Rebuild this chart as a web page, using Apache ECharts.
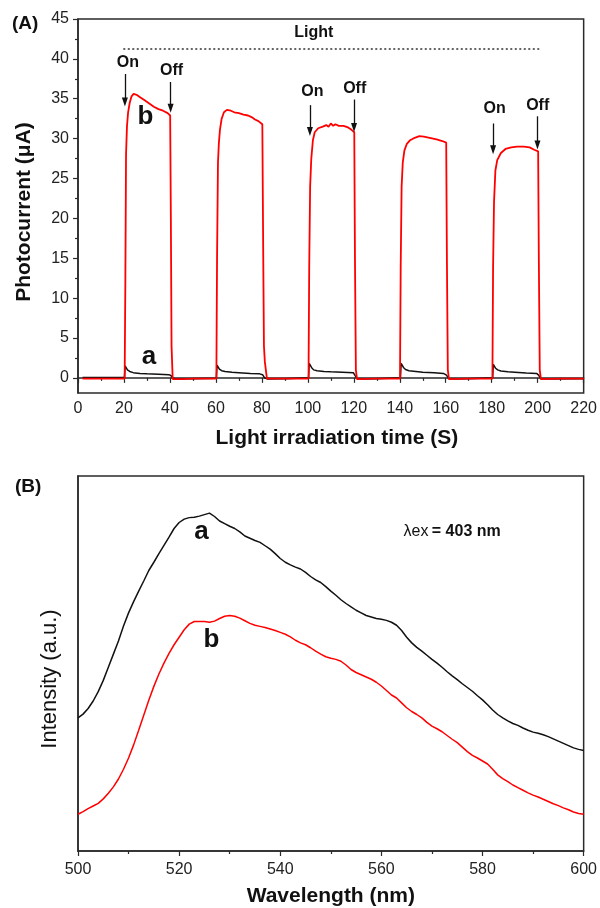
<!DOCTYPE html>
<html>
<head>
<meta charset="utf-8">
<script src="https://cdn.jsdelivr.net/npm/echarts@6/dist/echarts.min.js"></script>
<style>
html,body{margin:0;padding:0;background:#fff;}
#chart{width:600px;height:908px;}
</style>
</head>
<body>
<div id="chart"></div>
<script>
// ---------- Panel A: photocurrent vs time ----------
const timeTicks = [0,20,40,60,80,100,120,140,160,180,200,220];
const currentTicks = [0,5,10,15,20,25,30,35,40,45];
const currentMinorTicks = [2.5,7.5,12.5,17.5,22.5,27.5,32.5,37.5,42.5];

const timeB = [2,20.3,20.6,20.9,21.3,21.8,22.5,23.3,24.2,25.5,27,29,31,33,35,37,39,40.1,40.4,40.7,41.2,45,50,
  60.2,60.5,60.9,61.3,61.8,62.5,63.5,64.8,66.5,68,70,72,74,75.5,77,78.5,80.2,80.6,80.9,81.3,82.2,90,
  100.3,100.6,101,101.5,102.2,103,104.5,106.5,108,109,110,111,112,113.5,115.5,117.5,119,120.2,120.5,120.9,121.4,130,
  140.1,140.4,140.8,141.3,142,143,144.5,146.5,148.5,150.5,153,156,158.5,160.2,160.5,160.9,161.4,170,
  180.3,180.6,181,181.6,182.4,184,186,188.5,191,194,196.5,198.5,200.2,200.5,200.9,201.4,210,220];
const currentB = [-0.1,-0.1,12,28,31.5,33.3,34.5,35.3,35.6,35.5,35.2,34.8,34.4,34.0,33.7,33.5,33.2,32.9,20,4,-0.15,-0.15,-0.1,
  -0.1,15,27,29.5,31.2,32.5,33.3,33.6,33.5,33.3,33.2,33.0,32.9,32.7,32.4,32.2,31.8,15,4,2,-0.1,-0.1,
  -0.1,14,24,27.5,29.8,30.8,31.3,31.5,31.7,31.5,31.9,31.6,31.8,31.6,31.6,31.4,31.1,30.8,15,1,-0.15,-0.1,
  -0.1,14,24,27,28.5,29.3,29.8,30.1,30.3,30.25,30.1,29.9,29.7,29.5,15,1,-0.15,-0.1,
  -0.1,14,22,26,27.3,28.2,28.7,28.9,29.0,29.0,28.9,28.6,28.4,15,1,-0.15,-0.1,-0.1];

const timeA = [2,20.2,20.5,20.9,21.5,22.5,24,27,30,35,39.5,40.4,41.2,43,50,
  60.2,60.5,60.9,61.5,62.5,64,67,70,75,79,80.3,81.2,82.5,90,
  100.3,100.6,101,101.6,102.5,104,107,110,115,119.8,120.5,121.4,125,130,
  140.3,140.6,141,141.6,142.5,144,147,150,155,159,160.3,161.3,165,170,
  180.4,180.7,181.1,181.7,182.6,184,187,190,195,199.5,200.4,201.3,205,220];
const currentA = [0.05,0.05,1.5,1.3,1.0,0.8,0.65,0.55,0.5,0.45,0.4,0.3,-0.05,-0.15,-0.1,
  -0.05,1.6,1.4,1.1,0.9,0.8,0.7,0.65,0.55,0.5,0.4,0,-0.15,-0.1,
  0,1.8,1.6,1.3,1.0,0.9,0.8,0.75,0.7,0.65,0.3,-0.1,-0.15,-0.1,
  0,1.8,1.6,1.3,1.05,0.9,0.8,0.7,0.65,0.55,0.35,-0.1,-0.15,-0.1,
  0,1.7,1.5,1.2,1.0,0.85,0.75,0.7,0.6,0.55,0.35,-0.1,-0.15,-0.1];

// On/Off annotations (time, arrow start, arrow end, label position)
const switchText = ['On','Off','On','Off','On','Off'];
const switchTime = [20.4,40.3,100.9,120.1,180.6,199.9];
const arrowFrom = [38.1,37.1,34.2,34.9,31.9,32.8];
const arrowTo = [34.6,33.8,30.9,31.4,28.6,29.2];
const switchLabelTime = [21.7,40.7,102,120.4,181.3,200];
const switchLabelValue = [39.5,38.5,35.9,36.3,33.8,34.1];
const lightStart = 19.7, lightEnd = 201.7, lightLevel = 41.24;

// ---------- Panel B: PL spectra ----------
const wavelength = [500,501,502,503,504,505,506,507,508,509,510,511,512,513,514,515,516,517,518,519,
  520,521,522,523,524,525,526,527,528,529,530,531,532,533,534,535,536,537,538,539,
  540,541,542,543,544,545,546,547,548,549,550,551,552,553,554,555,556,557,558,559,
  560,561,562,563,564,565,566,567,568,569,570,571,572,573,574,575,576,577,578,579,
  580,581,582,583,584,585,586,587,588,589,590,591,592,593,594,595,596,597,598,599,600];
const wavelengthTicks = [500,520,540,560,580,600];
const intensityA = [35.5,36.5,38,40,42.5,45.5,49,52.5,56,60,63.5,66.5,69.3,72,74.8,77,79.3,81.5,83.7,86,
  87.6,88.5,88.9,89,89.3,89.7,90.1,89.2,88,87.3,86.6,86,85.1,84,83.4,82.8,82.3,81.4,80.5,79.3,
  78,77,76.3,75.7,75.2,74.3,73.2,72.3,71.6,70.5,69.3,68.2,67,66,65.1,64.2,63.5,62.8,62.4,62,
  61.8,61.5,61,60.2,58.8,57,55.5,54.3,53.3,52.2,51.1,50.1,49,47.8,46.7,45.7,44.6,43.6,42.6,41.4,
  40.3,39.0,37.6,36.4,35.5,34.7,34,33.5,32.8,32.2,31.7,31.4,31,30.5,29.9,29.3,28.7,28.1,27.5,27.1,26.8];
const intensityB = [9.8,10.5,11.3,12,12.7,13.9,15.4,17.1,19.2,21.8,24.8,28.3,32.2,36.2,40.2,43.9,47.2,50.1,52.7,55,
  57,59,60.5,61.2,61.2,61.2,61,61.3,62,62.6,62.8,62.6,62.1,61.4,60.7,60.2,59.9,59.6,59.2,58.8,
  58.3,57.8,57.1,56.2,55.5,55,54.2,53.3,52.5,51.8,51.4,51.1,50.6,49.6,48.4,47.6,47,46.4,45.8,45,
  44,42.8,41.6,40.8,39.5,38.2,37.2,36.4,35.5,34.3,33.3,32.6,31.8,30.8,29.8,28.9,27.7,26.5,25.5,24.8,
  24,23.2,21.8,20.3,19.3,18.5,17.6,16.9,16.2,15.5,14.9,14.4,13.8,13.2,12.6,12.1,11.5,11,10.4,10,9.8];

// ---------- build ----------
const FONT = '"Liberation Sans", Arial, sans-serif';
const AX = '#2a2a2a';
function zip(xs, ys){ return xs.map((x,i)=>[x, ys[i]]); }

const arrowLines = switchTime.map((t,i)=>[
  {coord:[t, arrowFrom[i]], symbol:'none'},
  {coord:[t, arrowTo[i]], symbol:'triangle', symbolSize:[6,9]}
]);
const switchPoints = switchText.map((s,i)=>({
  coord:[switchLabelTime[i], switchLabelValue[i]], value:s,
  label:{formatter:s}
}));

const textPt = (coord, txt, size, extra) => Object.assign({
  coord: coord, value: txt, symbol:'circle', symbolSize:1,
  itemStyle:{color:'rgba(0,0,0,0)'},
  label:{show:true, position:'inside', formatter:txt, color:'#111', fontFamily:FONT, fontWeight:'bold', fontSize:size}
}, extra||{});

const chart = echarts.init(document.getElementById('chart'), null, {renderer:'canvas'});
const option = {
  animation:false,
  backgroundColor:'#fff',
  grid:[
    {left:78, top:19, width:506, height:374, show:true, borderColor:AX, borderWidth:1.5},
    {left:78, top:476, width:506, height:376, show:true, borderColor:AX, borderWidth:1.5}
  ],
  xAxis:[
    {type:'value', gridIndex:0, min:0, max:220, interval:20,
      axisLine:{show:true, lineStyle:{color:AX, width:1.5}},
      axisTick:{show:true, inside:false, length:5, lineStyle:{color:AX, width:1.2}},
      minorTick:{show:true, splitNumber:2, length:3, lineStyle:{color:AX, width:1.2}},
      splitLine:{show:false}, minorSplitLine:{show:false},
      axisLabel:{fontSize:16, color:'#222', fontFamily:FONT, margin:8},
      name:'Light irradiation time (S)', nameLocation:'middle', nameGap:35,
      nameTextStyle:{fontSize:21, fontWeight:'bold', color:'#111', fontFamily:FONT, padding:[0,0,0,12]}
    },
    {type:'value', gridIndex:1, min:500, max:600, interval:20,
      axisLine:{show:true, lineStyle:{color:AX, width:1.5}},
      axisTick:{show:true, inside:false, length:5, lineStyle:{color:AX, width:1.2}},
      minorTick:{show:true, splitNumber:2, length:3, lineStyle:{color:AX, width:1.2}},
      splitLine:{show:false}, minorSplitLine:{show:false},
      axisLabel:{fontSize:16, color:'#222', fontFamily:FONT, margin:11},
      name:'Wavelength (nm)', nameLocation:'middle', nameGap:35,
      nameTextStyle:{fontSize:21, fontWeight:'bold', color:'#111', fontFamily:FONT}
    }
  ],
  yAxis:[
    {type:'value', gridIndex:0, min:-1.9, max:45,
      axisLine:{show:true, lineStyle:{color:AX, width:1.5}},
      axisTick:{show:true, inside:false, length:5, customValues:currentTicks, lineStyle:{color:AX, width:1.2}},
      axisLabel:{show:true, customValues:currentTicks, fontSize:16, color:'#222', fontFamily:FONT, margin:9},
      splitLine:{show:false}
    },
    {type:'value', gridIndex:0, min:-1.9, max:45, position:'left',
      axisLine:{show:false},
      axisTick:{show:true, inside:false, length:3, customValues:currentMinorTicks, lineStyle:{color:AX, width:1.2}},
      axisLabel:{show:false}, splitLine:{show:false}
    },
    {type:'value', gridIndex:1, min:0, max:100,
      axisLine:{show:true, lineStyle:{color:AX, width:1.5}},
      axisTick:{show:false}, axisLabel:{show:false}, splitLine:{show:false}
    }
  ],
  series:[
    {type:'line', name:'a', xAxisIndex:0, yAxisIndex:0, data:zip(timeA,currentA), showSymbol:false,
      lineStyle:{color:'#111', width:1.5}, itemStyle:{color:'#111'}, silent:true, z:2,
      markPoint:{silent:true, data:[textPt([30.9,2.65],'a',26)]}
    },
    {type:'line', name:'b', xAxisIndex:0, yAxisIndex:0, data:zip(timeB,currentB), showSymbol:false,
      lineStyle:{color:'#ff0000', width:1.8}, itemStyle:{color:'#ff0000'}, silent:true, z:3,
      markLine:{silent:true, animation:false,
        label:{show:false},
        data:[[{coord:[lightStart,lightLevel], symbol:'none'},{coord:[lightEnd,lightLevel], symbol:'none',
          lineStyle:{color:'#333', width:1.5, type:[2,2.5]}}]].concat(arrowLines),
        lineStyle:{color:'#111', width:1.3, type:'solid'}
      },
      markPoint:{silent:true, symbol:'circle', symbolSize:1, itemStyle:{color:'rgba(0,0,0,0)'},
        label:{show:true, position:'inside', color:'#111', fontFamily:FONT, fontWeight:'bold', fontSize:16},
        data:switchPoints.concat([
          textPt([102.6,43.25],'Light',16),
          textPt([29.3,32.7],'b',26)
        ])
      }
    },
    {type:'line', name:'a-PL', xAxisIndex:1, yAxisIndex:2, data:zip(wavelength,intensityA), showSymbol:false,
      lineStyle:{color:'#111', width:1.5}, itemStyle:{color:'#111'}, silent:true,
      markPoint:{silent:true, data:[
        textPt([524.4,85.2],'a',26),
        textPt([574,85.2],'λex = 403 nm',16,{label:{show:true, position:'inside', color:'#111', fontFamily:FONT,
          formatter:'{l|λex} {n|= 403 nm}',
          rich:{l:{fontSize:16, fontFamily:FONT, color:'#111'}, n:{fontSize:16, fontWeight:'bold', fontFamily:FONT, color:'#111'}}}})
      ]}
    },
    {type:'line', name:'b-PL', xAxisIndex:1, yAxisIndex:2, data:zip(wavelength,intensityB), showSymbol:false,
      lineStyle:{color:'#ff0000', width:1.5}, itemStyle:{color:'#ff0000'}, silent:true,
      markPoint:{silent:true, data:[textPt([526.4,56.3],'b',26)]}
    }
  ],
  graphic:[
    {type:'text', left:12, top:14, style:{text:'(A)', font:'bold 19px '+FONT, fill:'#111'}},
    {type:'text', left:15, top:477, style:{text:'(B)', font:'bold 19px '+FONT, fill:'#111'}},
    {type:'text', x:24, y:212, rotation:Math.PI/2, style:{text:'Photocurrent (μA)', font:'bold 21px '+FONT, fill:'#111', align:'center', verticalAlign:'middle'}},
    {type:'text', x:50, y:679, rotation:Math.PI/2, style:{text:'Intensity (a.u.)', font:'22px '+FONT, fill:'#111', align:'center', verticalAlign:'middle'}}
  ]
};
chart.setOption(option);
</script>
</body>
</html>
